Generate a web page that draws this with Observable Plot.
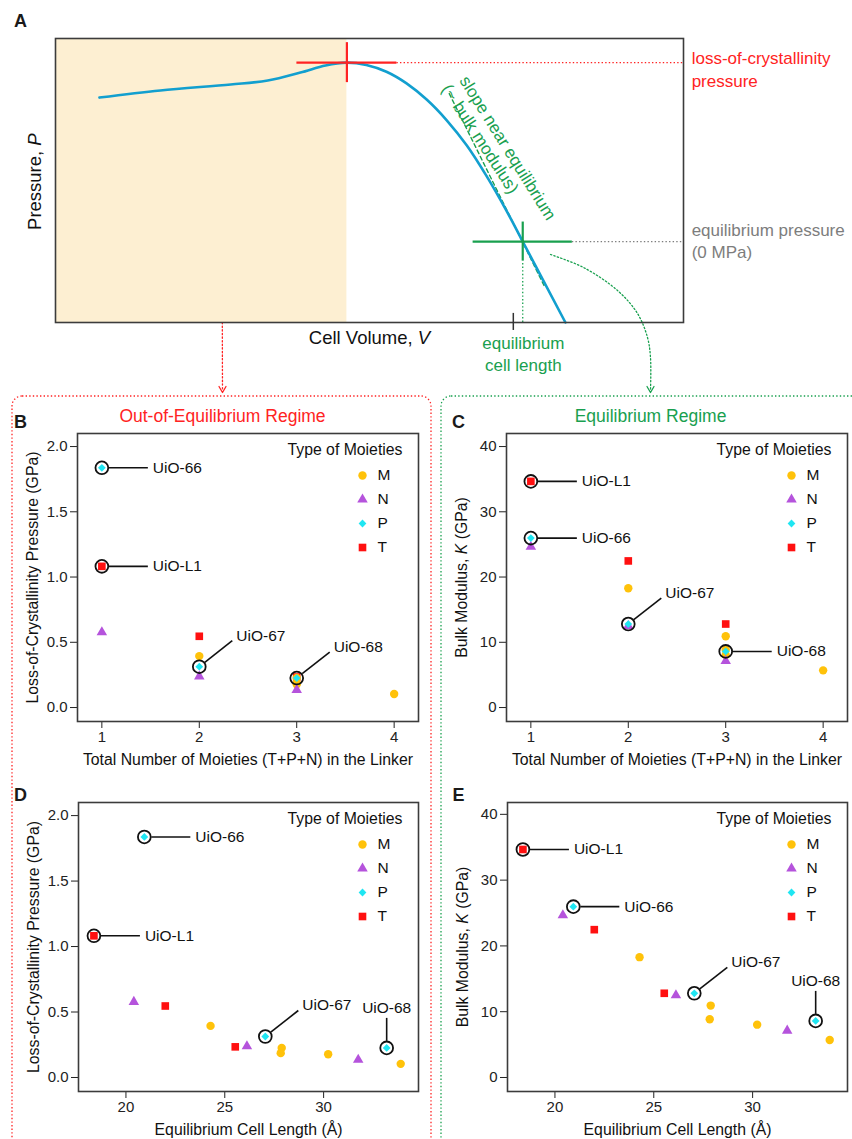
<!DOCTYPE html>
<html>
<head>
<meta charset="utf-8">
<script src="https://cdn.jsdelivr.net/npm/d3@7"></script>
<script src="https://cdn.jsdelivr.net/npm/@observablehq/plot@0.6"></script>
<style>
  body { margin: 0; background: #fff; }
  #page { position: relative; width: 852px; height: 1139px; overflow: hidden; background: #fff; }
</style>
</head>
<body>
<div id="page"></div>
<script>
const FONT = '"Liberation Sans", Arial, Helvetica, sans-serif';

// ---------- Scatter data (panels B–E) ----------
const moietyTypes   = ["M", "N", "P", "T"];
const moietyColors  = ["#ffc20a", "#b553dc", "#1fe6f2", "#ff1010"];
const moietySymbols = ["circle", "triangle", "diamond2", "square"];
const moietyRadius  = [4.2, 3.9, 3.5, 4.3];
const drawOrder     = ["T", "M", "N", "P"];

const compoundNames = ["UiO-L1", "UiO-66", "", "", "", "UiO-67", "", "", "", "", "", "", "UiO-68", ""];
const compoundTypes = ["T", "P", "N", "T", "M", "P", "N", "T", "M", "M", "M", "N", "P", "M"];
const moietyCounts  = [1, 1, 1, 2, 2, 2, 2, 3, 3, 3, 3, 3, 3, 4];
const cellLengths   = [18.38, 20.93, 20.40, 21.99, 24.28, 27.05, 26.12, 25.53, 27.88, 27.83, 30.23, 31.75, 33.19, 33.90];
const lossPressures = [1.082, 1.837, 0.577, 0.546, 0.394, 0.313, 0.239, 0.234, 0.226, 0.186, 0.178, 0.135, 0.226, 0.104];
const bulkModuli    = [34.66, 25.97, 24.65, 22.47, 18.29, 12.80, 12.50, 12.80, 10.93, 8.85, 8.03, 7.12, 8.60, 5.70];

const xTicksCount    = [1, 2, 3, 4];
const xTicksLength   = [20, 25, 30];
const yTicksPressure = [0, 0.5, 1, 1.5, 2];
const yTicksModulus  = [0, 10, 20, 30, 40];

const legendTitle = "Type of Moieties";
const xLabelCount  = "Total Number of Moieties (T+P+N) in the Linker";
const xLabelLength = "Equilibrium Cell Length (Å)";
const yLabelPressure = "Loss-of-Crystallinity Pressure (GPa)";
const yLabelModulus  = "Bulk Modulus, *K* (GPa)";

const compounds = compoundTypes.map((type, i) => ({
  type, name: compoundNames[i], n: moietyCounts[i], length: cellLengths[i],
  plc: lossPressures[i], K: bulkModuli[i]
}));

// ---------- Schematic data (panel A, arbitrary units 0–100) ----------
const curveVolume   = [7.0, 16.7, 27.9, 33.8, 39.0, 43.0, 46.3, 49.5, 52.7, 55.9, 59.1, 62.3, 65.5, 68.6, 71.8, 74.4, 81.2];
const curvePressure = [79.2, 81.7, 83.8, 85.2, 88.0, 90.5, 91.5, 90.7, 88.3, 84.2, 78.5, 71.2, 62.3, 51.7, 39.4, 28.5, 0];
const lossPoint = [46.4, 91.5];
const eqPoint = [74.4, 28.5];
const eqTickVolume = 72.9;
const tangentVolume = [62.7, 78.0];
const tangentPressure = [80.6, 12.1];

// ---------- Page decoration (connectors and regime boxes, page pixels) ----------
const redConnectorX = [337, 300, 267, 240, 227, 223, 222, 222];
const redConnectorY = [73, 100, 127, 153, 177, 195, 230, 390];
const greenConnectorX = [550, 583, 617, 637, 647, 650, 650];
const greenConnectorY = [254, 267, 290, 313, 337, 357, 390];

const RED = "#ff2323", GREEN = "#19a04f", GRAY = "#7d7d7d", BLUE = "#129fcf", BEIGE = "#fdefd2";

const page = document.getElementById("page");
function baseStyle(left, top, size = "15px") {
  return { position: "absolute", left: left + "px", top: top + "px", background: "transparent",
           overflow: "visible", fontFamily: FONT, fontSize: size, color: "#222" };
}
function italicize(svg) {
  svg.querySelectorAll("text").forEach(t => {
    const s = t.textContent;
    if (!s.includes("*")) return;
    const parts = s.split("*");
    while (t.firstChild) t.removeChild(t.firstChild);
    parts.forEach((p, i) => {
      if (!p) return;
      const ts = document.createElementNS("http://www.w3.org/2000/svg", "tspan");
      ts.textContent = p;
      if (i % 2) ts.setAttribute("font-style", "italic");
      t.appendChild(ts);
    });
  });
  return svg;
}

// ---------- Overlay ----------
const pathRows = (xs, ys) => xs.map((x, i) => ({ x, y: ys[i] }));
const arrowHead = (x, y) => [{ x: x - 3.5, y: y - 6 }, { x, y }, { x: x + 3.5, y: y - 6 }];
const overlay = Plot.plot({
  width: 852, height: 1139, margin: 0,
  x: { domain: [0, 852], range: [0, 852], axis: null },
  y: { domain: [0, 1139], range: [0, 1139], axis: null },
  style: baseStyle(0, 0),
  marks: [
    Plot.rect([{ x1: 12, x2: 431, y1: 396, y2: 1180 }], { x1: "x1", x2: "x2", y1: "y1", y2: "y2", rx: 10, fill: "none", stroke: RED, strokeWidth: 1.3, strokeDasharray: "1.4,2.2" }),
    Plot.rect([{ x1: 441, x2: 880, y1: 396, y2: 1180 }], { x1: "x1", x2: "x2", y1: "y1", y2: "y2", rx: 10, fill: "none", stroke: GREEN, strokeWidth: 1.3, strokeDasharray: "1.4,2.2" }),
    Plot.line(pathRows(redConnectorX, redConnectorY), { x: "x", y: "y", curve: "catmull-rom", stroke: RED, strokeWidth: 1.3, strokeDasharray: "1.4,2.2" }),
    Plot.line(pathRows(greenConnectorX, greenConnectorY), { x: "x", y: "y", curve: "catmull-rom", stroke: GREEN, strokeWidth: 1.3, strokeDasharray: "1.4,2.2" }),
    Plot.line(arrowHead(222, 392), { x: "x", y: "y", stroke: RED, strokeWidth: 1.3 }),
    Plot.line(arrowHead(650, 392), { x: "x", y: "y", stroke: GREEN, strokeWidth: 1.3 }),
    Plot.text([{ x: 20, y: 21, t: "A" }, { x: 20, y: 422, t: "B" }, { x: 458, y: 422, t: "C" }, { x: 20, y: 795, t: "D" }, { x: 458, y: 795, t: "E" }],
      { x: "x", y: "y", text: "t", fontWeight: "bold", fontSize: 18, fill: "#1a1a1a" }),
    Plot.text([{ x: 222, y: 416, t: "Out-of-Equilibrium Regime" }], { x: "x", y: "y", text: "t", fontSize: 17.5, fill: RED }),
    Plot.text([{ x: 650, y: 416, t: "Equilibrium Regime" }], { x: "x", y: "y", text: "t", fontSize: 17.5, fill: GREEN })
  ]
});
page.appendChild(overlay);

// ---------- Panel A ----------
const curveRows = curveVolume.map((v, i) => ({ v, p: curvePressure[i] }));
const tangentRows = tangentVolume.map((v, i) => ({ v, p: tangentPressure[i] }));
const plotA = Plot.plot({
  width: 852, height: 390, marginLeft: 55, marginRight: 169, marginTop: 38, marginBottom: 68,
  x: { domain: [0, 100], axis: null },
  y: { domain: [0, 100], axis: null },
  style: baseStyle(0, 0, "17px"),
  marks: [
    Plot.rect([{ v0: 0, v1: lossPoint[0] }], { x1: "v0", x2: "v1", y1: 0, y2: 100, fill: BEIGE }),
    Plot.ruleY([lossPoint[1]], { x1: lossPoint[0] + 7.96, x2: 100, stroke: RED, strokeWidth: 1.3, strokeDasharray: "1.4,2.2" }),
    Plot.ruleY([eqPoint[1]], { x1: eqPoint[0] + 7.9, x2: 100, stroke: GRAY, strokeWidth: 1.3, strokeDasharray: "1.4,2.2" }),
    Plot.ruleX([eqPoint[0]], { y1: 0, y2: eqPoint[1] - 6.87, stroke: GREEN, strokeWidth: 1.3, strokeDasharray: "1.4,2.2" }),
    Plot.line(tangentRows, { x: "v", y: "p", stroke: GREEN, strokeWidth: 1.4, strokeDasharray: "4,3" }),
    Plot.line(curveRows, { x: "v", y: "p", curve: "catmull-rom", stroke: BLUE, strokeWidth: 2.6 }),
    Plot.ruleY([lossPoint[1]], { x1: lossPoint[0] - 7.96, x2: lossPoint[0] + 7.96, stroke: RED, strokeWidth: 2.2 }),
    Plot.ruleX([lossPoint[0]], { y1: lossPoint[1] - 7.04, y2: lossPoint[1] + 7.04, stroke: RED, strokeWidth: 2.2 }),
    Plot.ruleY([eqPoint[1]], { x1: eqPoint[0] - 7.9, x2: eqPoint[0] + 7.9, stroke: GREEN, strokeWidth: 2.2 }),
    Plot.ruleX([eqPoint[0]], { y1: eqPoint[1] - 6.87, y2: eqPoint[1] + 6.87, stroke: GREEN, strokeWidth: 2.2 }),
    Plot.frame({ stroke: "#3c3c3c", strokeWidth: 1.6 }),
    Plot.ruleX([eqTickVolume], { y1: 3.2, y2: -2.8, stroke: "#333", strokeWidth: 1.5 }),
    Plot.text([{ x: 101.3, y: 93.0, t: "loss-of-crystallinity" }, { x: 101.3, y: 84.9, t: "pressure" }], { x: "x", y: "y", text: "t", textAnchor: "start", fill: RED, fontSize: 17 }),
    Plot.text([{ x: 101.3, y: 32.4, t: "equilibrium pressure" }, { x: 101.3, y: 24.6, t: "(0 MPa)" }], { x: "x", y: "y", text: "t", textAnchor: "start", fill: GRAY, fontSize: 17 }),
    Plot.text([{ x: 74.5, y: -7.4, t: "equilibrium" }, { x: 74.5, y: -15.1, t: "cell length" }], { x: "x", y: "y", text: "t", fill: GREEN, fontSize: 17 }),
    Plot.text([{ x: 72.0, y: 61.4, t: "slope near equilibrium" }], { x: "x", y: "y", text: "t", rotate: 58, fill: GREEN, fontSize: 17 }),
    Plot.text([{ x: 67.6, y: 64.6, t: "(~ bulk modulus)" }], { x: "x", y: "y", text: "t", rotate: 57, fill: GREEN, fontSize: 17 }),
    Plot.text([{ x: 50, y: -5.6, t: "Cell Volume, *V*" }], { x: "x", y: "y", text: "t", fill: "#111", fontSize: 18.5 }),
    Plot.text([{ x: -3.2, y: 49.6, t: "Pressure, *P*" }], { x: "x", y: "y", text: "t", rotate: -90, fill: "#111", fontSize: 18.5 })
  ]
});
page.appendChild(italicize(plotA));

// ---------- Scatter panels ----------
const leaderShapes = {
  h: { from: [7, 0], to: [46, 0], label: [51, 0], anchor: "start" },
  d: { from: [5.5, -4.3], to: [33, -26], label: [37, -31], anchor: "start" },
  v: { from: [0, -7], to: [0, -30], label: [0, -40], anchor: "middle" }
};

function scatterPanel(cfg) {
  const { left, top, width, height, ml, mr, mt, mb, xKey, yKey, xDomain, yDomain, xTicks, yTicks, xFormat, yFormat, xLabel, yLabel, leaders } = cfg;
  const sx = Plot.scale({ x: { domain: xDomain, range: [ml, width - mr] } });
  const sy = Plot.scale({ y: { domain: yDomain, range: [height - mb, mt] } });
  const at = (px, py) => ({ x: sx.invert(px), y: sy.invert(py) });
  const frameRight = width - mr, frameBottom = height - mb;
  const midX = (ml + frameRight) / 2, midY = (mt + frameBottom) / 2;
  const pts = compounds.map(d => ({ ...d, x: d[xKey], y: d[yKey] }));
  const named = pts.filter(d => d.name);

  const marks = [Plot.frame({ stroke: "#3c3c3c", strokeWidth: 1.6 })];
  for (const t of drawOrder) {
    const i = moietyTypes.indexOf(t);
    marks.push(Plot.dot(pts.filter(d => d.type === t), { x: "x", y: "y", symbol: "type", fill: "type", r: moietyRadius[i] }));
  }
  marks.push(Plot.dot(named, { x: "x", y: "y", r: 6.4, stroke: "#111", strokeWidth: 1.8, fill: "none" }));
  const links = named.map(d => {
    const s = leaderShapes[leaders[d.name]];
    const px = sx.apply(d.x), py = sy.apply(d.y);
    const a = at(px + s.from[0], py + s.from[1]);
    const b = at(px + s.to[0], py + s.to[1]);
    return { x1: a.x, y1: a.y, x2: b.x, y2: b.y };
  });
  marks.push(Plot.link(links, { x1: "x1", y1: "y1", x2: "x2", y2: "y2", stroke: "#111", strokeWidth: 1.6 }));
  for (const d of named) {
    const s = leaderShapes[leaders[d.name]];
    marks.push(Plot.text([d], { x: "x", y: "y", text: "name", dx: s.label[0], dy: s.label[1], textAnchor: s.anchor, fontSize: 15.5, fill: "#111" }));
  }
  // legend
  marks.push(Plot.text([{ ...at(frameRight - 16, mt + 16), t: legendTitle }], { x: "x", y: "y", text: "t", textAnchor: "end", fontSize: 15.8, fill: "#111" }));
  moietyTypes.forEach((t, i) => {
    marks.push(Plot.dot([{ ...at(frameRight - 56, mt + 42 + 24 * i), type: t }], { x: "x", y: "y", symbol: "type", fill: "type", r: moietyRadius[i] }));
    marks.push(Plot.text([{ ...at(frameRight - 41, mt + 42 + 24 * i), t }], { x: "x", y: "y", text: "t", textAnchor: "start", fontSize: 15.5, fill: "#111" }));
  });
  // axis titles
  marks.push(Plot.text([{ ...at(midX, frameBottom + 38), t: xLabel }], { x: "x", y: "y", text: "t", fontSize: 15.8, fill: "#111" }));
  marks.push(Plot.text([{ ...at(ml - 45, midY), t: yLabel }], { x: "x", y: "y", text: "t", rotate: -90, fontSize: 15.8, fill: "#111" }));

  const chart = Plot.plot({
    width, height, marginLeft: ml, marginRight: mr, marginTop: mt, marginBottom: mb,
    x: { domain: xDomain, ticks: xTicks, tickSize: 7, tickPadding: 3, tickFormat: xFormat, label: null },
    y: { domain: yDomain, ticks: yTicks, tickSize: 7, tickPadding: 3, tickFormat: yFormat, label: null },
    symbol: { domain: moietyTypes, range: moietySymbols },
    color: { domain: moietyTypes, range: moietyColors },
    style: baseStyle(left, top),
    marks
  });
  page.appendChild(italicize(chart));
}

const fmt1 = d => d.toFixed(1);
const fmt0 = d => String(d);

scatterPanel({ left: 0, top: 390, width: 430, height: 380, ml: 77, mr: 12, mt: 43, mb: 49,
  xKey: "n", yKey: "plc", xDomain: [0.75, 4.25], yDomain: [-0.107, 2.1], xTicks: xTicksCount, yTicks: yTicksPressure, xFormat: fmt0, yFormat: fmt1,
  xLabel: xLabelCount, yLabel: yLabelPressure, leaders: { "UiO-66": "h", "UiO-L1": "h", "UiO-67": "d", "UiO-68": "d" } });
scatterPanel({ left: 430, top: 390, width: 422, height: 380, ml: 76, mr: 5, mt: 43, mb: 49,
  xKey: "n", yKey: "K", xDomain: [0.75, 4.25], yDomain: [-2.14, 42], xTicks: xTicksCount, yTicks: yTicksModulus, xFormat: fmt0, yFormat: fmt0,
  xLabel: xLabelCount, yLabel: yLabelModulus, leaders: { "UiO-66": "h", "UiO-L1": "h", "UiO-67": "d", "UiO-68": "h" } });
scatterPanel({ left: 0, top: 770, width: 430, height: 369, ml: 78, mr: 12, mt: 32, mb: 48,
  xKey: "length", yKey: "plc", xDomain: [17.6, 34.8], yDomain: [-0.107, 2.1], xTicks: xTicksLength, yTicks: yTicksPressure, xFormat: fmt0, yFormat: fmt1,
  xLabel: xLabelLength, yLabel: yLabelPressure, leaders: { "UiO-66": "h", "UiO-L1": "h", "UiO-67": "d", "UiO-68": "v" } });
scatterPanel({ left: 430, top: 770, width: 422, height: 369, ml: 77, mr: 5, mt: 32, mb: 48,
  xKey: "length", yKey: "K", xDomain: [17.6, 34.8], yDomain: [-2.13, 41.8], xTicks: xTicksLength, yTicks: yTicksModulus, xFormat: fmt0, yFormat: fmt0,
  xLabel: xLabelLength, yLabel: yLabelModulus, leaders: { "UiO-66": "h", "UiO-L1": "h", "UiO-67": "d", "UiO-68": "v" } });
</script>
</body>
</html>
